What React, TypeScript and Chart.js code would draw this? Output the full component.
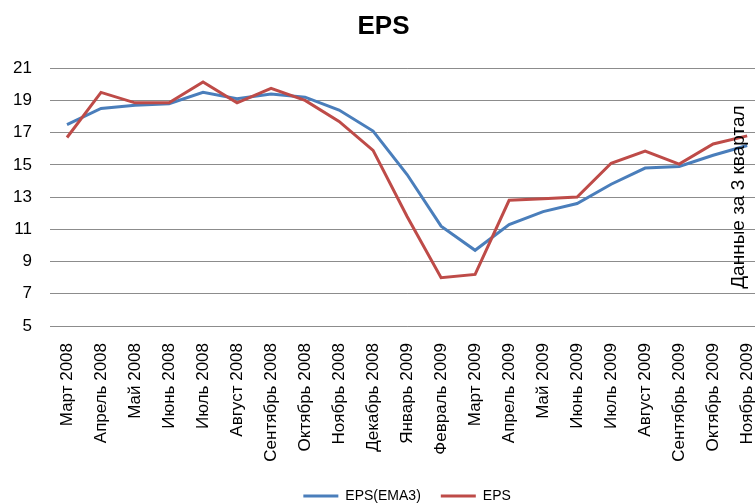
import React, { useEffect, useRef } from "react";
import { Chart, registerables } from "chart.js";

Chart.register(...registerables);

const categories = [
  "Март 2008", "Апрель 2008", "Май 2008", "Июнь 2008", "Июль 2008", "Август 2008",
  "Сентябрь 2008", "Октябрь 2008", "Ноябрь 2008", "Декабрь 2008", "Январь 2009",
  "Февраль 2009", "Март 2009", "Апрель 2009", "Май 2009", "Июнь 2009", "Июль 2009",
  "Август 2009", "Сентябрь 2009", "Октябрь 2009", "Ноябрь 2009",
];

const emaValues = [17.5, 18.5, 18.7, 18.8, 19.5, 19.1, 19.4, 19.2, 18.4, 17.1, 14.4, 11.2, 9.7, 11.3, 12.1, 12.6, 13.8, 14.8, 14.9, 15.6, 16.2];
const epsValues = [16.7, 19.5, 18.85, 18.85, 20.15, 18.85, 19.75, 19.0, 17.7, 15.9, 11.8, 8.0, 8.2, 12.8, 12.9, 13.0, 15.1, 15.85, 15.05, 16.3, 16.8];

const seriesNames = ["EPS(EMA3)", "EPS"];
const yTicks = { min: 5, max: 21, step: 2 };
const chartTitle = "EPS";
const noteText = "Данные за 3 квартал";

const FONT = "'Liberation Sans', Arial, sans-serif";

const notePlugin = {
  id: "note",
  afterDatasetsDraw(chart: any) {
    const { ctx, chartArea, scales } = chart;
    const x = scales.x.getPixelForValue(categories.length - 1);
    const y = (chartArea.top + chartArea.bottom) / 2;
    ctx.save();
    ctx.translate(x - 3, y);
    ctx.rotate(-Math.PI / 2);
    ctx.font = `19px ${FONT}`;
    ctx.fillStyle = "#000";
    ctx.textAlign = "center";
    ctx.textBaseline = "alphabetic";
    ctx.fillText(noteText, 0, 0);
    ctx.restore();
  },
};

export default function App() {
  const ref = useRef<HTMLCanvasElement>(null);
  useEffect(() => {
    if (!ref.current) return;
    const chart = new Chart(ref.current, {
      type: "line",
      data: {
        labels: categories,
        datasets: [
          {
            label: seriesNames[0],
            data: emaValues,
            borderColor: "#4a7ebb",
            backgroundColor: "#4a7ebb",
            borderWidth: 3,
            pointRadius: 0,
            tension: 0,
            order: 1,
          },
          {
            label: seriesNames[1],
            data: epsValues,
            borderColor: "#be4b48",
            backgroundColor: "#be4b48",
            borderWidth: 3,
            pointRadius: 0,
            tension: 0,
            order: 0,
          },
        ],
      },
      options: {
        animation: false,
        responsive: false,
        devicePixelRatio: 1,
        layout: { padding: { left: 0, right: 18, top: 0, bottom: 0 } },
        plugins: {
          title: {
            display: true,
            text: chartTitle,
            color: "#000",
            font: { family: FONT, size: 26, weight: "bold" },
            padding: { top: 11, bottom: 26 },
          },
          legend: {
            position: "bottom",
            fullSize: false,
            labels: {
              color: "#000",
              font: { family: FONT, size: 14 },
              boxWidth: 35,
              boxHeight: 3,
              padding: 20,
              generateLabels: (c: any) =>
                c.data.datasets.map((d: any, i: number) => ({
                  text: d.label,
                  fillStyle: d.borderColor,
                  strokeStyle: d.borderColor,
                  lineWidth: 0,
                  hidden: false,
                  datasetIndex: i,
                  fontColor: "#000",
                })),
            },
          },
          tooltip: { enabled: false },
        },
        scales: {
          x: {
            type: "category",
            offset: true,
            grid: { display: false, drawTicks: false },
            border: { display: false },
            ticks: {
              color: "#000",
              font: { family: FONT, size: 17 },
              minRotation: 90,
              maxRotation: 90,
              padding: 17,
              autoSkip: false,
            },
            afterFit: (s: any) => {
              s.height = 143;
            },
          },
          y: {
            min: yTicks.min,
            max: yTicks.max,
            grid: { color: "#8c8c8c", lineWidth: 1, drawTicks: false },
            border: { display: false },
            ticks: {
              stepSize: yTicks.step,
              color: "#000",
              font: { family: FONT, size: 17 },
              padding: 18,
            },
            afterFit: (s: any) => {
              s.width = 50;
            },
          },
        },
      },
      plugins: [notePlugin],
    });
    return () => chart.destroy();
  }, []);
  return (
    <div style={{ position: "fixed", left: 0, top: 0, width: 785, height: 513, background: "#fff" }}>
      <canvas ref={ref} width={785} height={513} />
    </div>
  );
}
